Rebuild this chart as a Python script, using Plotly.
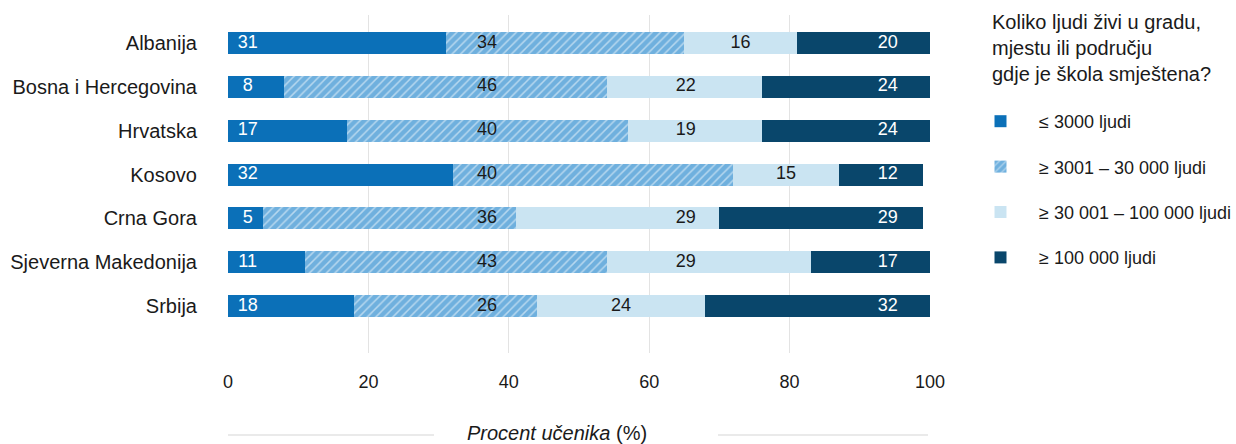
import plotly.graph_objects as go

# Countries (top to bottom) and share of students by settlement size
countries = ["Albanija", "Bosna i Hercegovina", "Hrvatska", "Kosovo",
             "Crna Gora", "Sjeverna Makedonija", "Srbija"]
small = [31, 8, 17, 32, 5, 11, 18]          # <= 3000
town = [34, 46, 40, 40, 36, 43, 26]         # 3001 - 30 000
city = [16, 22, 19, 15, 29, 29, 24]         # 30 001 - 100 000
large = [20, 24, 24, 12, 29, 17, 32]        # >= 100 000

series_names = ["≤ 3000 ljudi", "≥ 3001 – 30 000 ljudi",
                "≥ 30 001 – 100 000 ljudi", "≥ 100 000 ljudi"]
tick_vals = [0, 20, 40, 60, 80, 100]

legend_title = "Koliko ljudi živi u gradu,<br>mjestu ili području<br>gdje je škola smještena?"
axis_title = "<i>Procent učenika</i> (%)"

FONT = "Liberation Sans, Arial, sans-serif"
TXT = "#1a1a1a"
colors = ["#0b70b8", "#6fb0de", "#cae4f2", "#09466b"]
label_colors = ["white", TXT, TXT, "white"]
# preferred label columns per series (data units); None = near bar start
label_cols = [None, 36.9, 65.2, 94.0]

all_series = [small, town, city, large]

# plot area in pixels, used to convert page positions to paper coords
W, H = 1236, 444
L, R, T, B = 228, 306, 15, 91
PW, PH = W - L - R, H - T - B


def px(x):
    return (x - L) / PW


def py(y):
    return (H - B - y) / PH


fig = go.Figure()

for i, (vals, name) in enumerate(zip(all_series, series_names)):
    marker = dict(color=colors[i], line=dict(width=0))
    if i == 1:
        marker = dict(color=colors[i], line=dict(width=0),
                      pattern=dict(shape="/", fgcolor="white", bgcolor=colors[i],
                                   size=6, solidity=0.25))
    fig.add_trace(go.Bar(
        y=countries, x=vals, orientation="h", name=name, width=0.5,
        marker=marker, legendgroup=name, hoverinfo="x+y+name",
    ))

# value labels, placed in a fixed column unless the segment is too short
for i, vals in enumerate(all_series):
    xs = []
    for r in range(len(countries)):
        start = sum(all_series[k][r] for k in range(i))
        end = start + vals[r]
        col = label_cols[i]
        if col is None:
            xs.append(start + 2.8)
        elif col - start >= 3 and end - col >= 3:
            xs.append(col)
        else:
            xs.append((start + end) / 2)
    fig.add_trace(go.Scatter(
        x=xs, y=countries, mode="text", text=[str(v) for v in vals],
        textposition="middle center",
        textfont=dict(family=FONT, size=18, color=label_colors[i]),
        showlegend=False, hoverinfo="skip",
    ))

fig.update_layout(
    width=W, height=H,
    margin=dict(l=L, r=R, t=T, b=B, autoexpand=False),
    barmode="stack",
    plot_bgcolor="white", paper_bgcolor="white",
    font=dict(family=FONT, size=18, color=TXT),
    showlegend=True,
    legend=dict(
        x=px(962), xanchor="left",
        y=py(103), yanchor="top",
        font=dict(size=18, color=TXT),
        traceorder="grouped", tracegroupgap=19,
        itemwidth=67, bgcolor="rgba(0,0,0,0)",
        maxheight=444,
    ),
    xaxis=dict(
        range=[0, 100], tickvals=tick_vals, showgrid=True,
        gridcolor="#e3e3e3", gridwidth=1, zeroline=False, showline=False,
        ticks="", ticklabelstandoff=16,
        tickfont=dict(size=18, color=TXT),
    ),
    yaxis=dict(
        categoryorder="array", categoryarray=countries,
        range=[7.07, -0.64], showgrid=False, zeroline=False, showline=False,
        ticks="", ticklabelstandoff=30,
        tickfont=dict(size=20, color=TXT),
    ),
)

# legend heading
fig.add_annotation(text=legend_title, x=px(990), y=py(9),
                   xref="paper", yref="paper", showarrow=False,
                   align="left", xanchor="left", yanchor="top",
                   font=dict(size=20, color=TXT))

# axis title flanked by rules
fig.add_annotation(text=axis_title, x=px(557), y=py(433), xref="paper", yref="paper",
                   showarrow=False, font=dict(size=20, color=TXT),
                   xanchor="center", yanchor="middle")
for x0, x1 in [(228, 434), (718, 928)]:
    fig.add_shape(type="line", xref="paper", yref="paper",
                  x0=px(x0), x1=px(x1), y0=py(435), y1=py(435),
                  line=dict(color="#e3e3e3", width=1.5))

fig.write_html("out.html")
